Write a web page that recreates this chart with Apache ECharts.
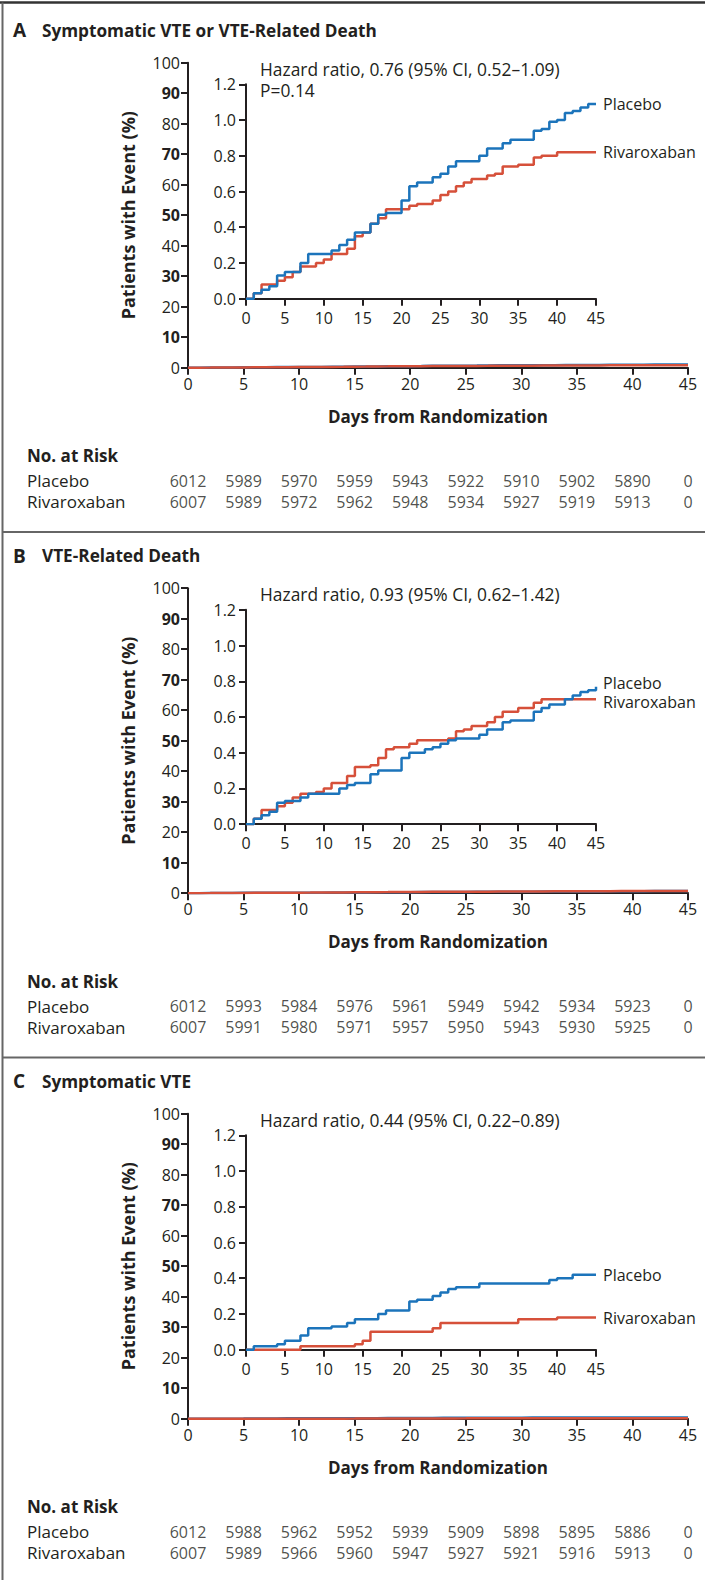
<!DOCTYPE html>
<html><head><meta charset="utf-8">
<script src="https://cdn.jsdelivr.net/npm/echarts@6/dist/echarts.min.js"></script>
<style>html,body{margin:0;padding:0;background:#fff}#c{width:705px;height:1580px}</style>
</head><body><div id="c"></div>
<script>
// ---------- data ----------
const days = Array.from({length: 46}, (_, i) => i);
const xTicks = [0, 5, 10, 15, 20, 25, 30, 35, 40, 45];
const panelLetters = ['A', 'B', 'C'];
const panelTitles = ['Symptomatic VTE or VTE-Related Death', 'VTE-Related Death', 'Symptomatic VTE'];
const hazardTexts = ['Hazard ratio, 0.76 (95% CI, 0.52\u20131.09)', 'Hazard ratio, 0.93 (95% CI, 0.62\u20131.42)', 'Hazard ratio, 0.44 (95% CI, 0.22\u20130.89)'];
const pTexts = ['P=0.14', '', ''];
const groupNames = ['Placebo', 'Rivaroxaban'];

const placeboA = [0,0.03,0.05,0.07,0.13,0.15,0.15,0.20,0.25,0.25,0.25,0.27,0.30,0.33,0.37,0.37,0.42,0.47,0.48,0.48,0.55,0.63,0.65,0.65,0.68,0.70,0.74,0.77,0.77,0.77,0.80,0.84,0.84,0.87,0.89,0.89,0.89,0.94,0.95,0.99,1.00,1.04,1.05,1.07,1.09,1.09];
const rivaA    = [0,0.03,0.08,0.08,0.10,0.12,0.15,0.18,0.18,0.20,0.22,0.25,0.25,0.28,0.35,0.37,0.42,0.45,0.50,0.50,0.50,0.52,0.53,0.53,0.55,0.58,0.60,0.63,0.65,0.67,0.67,0.69,0.70,0.74,0.74,0.75,0.75,0.79,0.80,0.80,0.82,0.82,0.82,0.82,0.82,0.82];
const placeboB = [0,0.03,0.05,0.07,0.12,0.13,0.13,0.15,0.17,0.17,0.17,0.17,0.20,0.22,0.23,0.23,0.28,0.30,0.30,0.30,0.37,0.40,0.40,0.42,0.43,0.45,0.47,0.48,0.48,0.48,0.50,0.53,0.53,0.57,0.58,0.58,0.58,0.63,0.65,0.67,0.67,0.70,0.72,0.74,0.75,0.77];
const rivaB    = [0,0.03,0.08,0.08,0.10,0.12,0.15,0.17,0.17,0.18,0.20,0.23,0.23,0.27,0.32,0.32,0.33,0.37,0.42,0.43,0.43,0.45,0.47,0.47,0.47,0.47,0.48,0.52,0.53,0.55,0.55,0.57,0.60,0.63,0.63,0.65,0.65,0.68,0.70,0.70,0.70,0.70,0.70,0.70,0.70,0.70];
const placeboC = [0,0.02,0.02,0.02,0.03,0.05,0.05,0.08,0.12,0.12,0.12,0.13,0.13,0.15,0.17,0.17,0.17,0.20,0.22,0.22,0.22,0.27,0.28,0.28,0.30,0.32,0.34,0.35,0.35,0.35,0.37,0.37,0.37,0.37,0.37,0.37,0.37,0.37,0.37,0.39,0.40,0.40,0.42,0.42,0.42,0.42];
const rivaC    = [0,0,0,0,0,0,0,0.02,0.02,0.02,0.02,0.02,0.02,0.02,0.03,0.05,0.10,0.10,0.10,0.10,0.10,0.10,0.10,0.10,0.12,0.15,0.15,0.15,0.15,0.15,0.15,0.15,0.15,0.15,0.15,0.17,0.17,0.17,0.17,0.17,0.18,0.18,0.18,0.18,0.18,0.18];

const riskPlaceboA = [6012,5989,5970,5959,5943,5922,5910,5902,5890,0];
const riskRivaA    = [6007,5989,5972,5962,5948,5934,5927,5919,5913,0];
const riskPlaceboB = [6012,5993,5984,5976,5961,5949,5942,5934,5923,0];
const riskRivaB    = [6007,5991,5980,5971,5957,5950,5943,5930,5925,0];
const riskPlaceboC = [6012,5988,5962,5952,5939,5909,5898,5895,5886,0];
const riskRivaC    = [6007,5989,5966,5960,5947,5927,5921,5916,5913,0];

const curves = [[placeboA, rivaA], [placeboB, rivaB], [placeboC, rivaC]];
const risks = [[riskPlaceboA, riskRivaA], [riskPlaceboB, riskRivaB], [riskPlaceboC, riskRivaC]];

// ---------- style ----------
const FONT = '"Open Sans", "Noto Sans", sans-serif';
const INK = '#231f20';
const COLORS = ['#1c74bb', '#d6503a'];
const offsets = [0, 525.5, 1051];
const endOffsets = [[[0, 0], [0, 0]], [[0, -4], [0, 3]], [[0, 0], [0, 0]]];

const grid = [], xAxis = [], yAxis = [], series = [], graphic = [];

function axisBase() {
  return {
    axisLine: {show: true, lineStyle: {color: INK, width: 2}},
    axisTick: {show: true, length: 7, lineStyle: {color: INK, width: 2}},
    splitLine: {show: false},
    axisLabel: {color: INK, fontSize: 16, fontFamily: FONT}
  };
}

panelLetters.forEach((letter, p) => {
  const o = offsets[p];
  const gMain = grid.length;
  grid.push({left: 188, top: 62.7 + o, width: 500, height: 305});
  grid.push({left: 246, top: 84.3 + o, width: 350, height: 214.4});
  grid.push({left: 188, top: 470 + o, width: 500, height: 42});

  // main axes
  const xMain = Object.assign(axisBase(), {
    gridIndex: gMain, type: 'value', min: 0, max: 45, interval: 5,
    name: 'Days from Randomization', nameLocation: 'middle', nameGap: 40,
    nameTextStyle: {color: INK, fontSize: 17, fontWeight: 'bold', fontFamily: FONT}
  });
  xMain.axisLabel.margin = 8;
  xAxis.push(xMain);
  const yMain = Object.assign(axisBase(), {
    gridIndex: gMain, type: 'value', min: 0, max: 100, interval: 10,
    name: 'Patients with Event (%)', nameLocation: 'middle', nameGap: 51,
    nameTextStyle: {color: INK, fontSize: 18, fontWeight: 'bold', fontFamily: FONT}
  });
  yMain.axisLabel = {
    color: INK, fontSize: 16, fontFamily: FONT, margin: 8,
    formatter: v => (v % 20 === 10 ? '{b|' + v + '}' : '{n|' + v + '}'),
    rich: {
      b: {fontWeight: 'bold', fontSize: 16, fontFamily: FONT, color: INK},
      n: {fontSize: 16, fontFamily: FONT, color: INK}
    }
  };
  yAxis.push(yMain);

  // inset axes
  const xIn = Object.assign(axisBase(), {gridIndex: gMain + 1, type: 'value', min: 0, max: 45, interval: 5});
  xIn.axisLabel.margin = 11;
  xAxis.push(xIn);
  const yIn = Object.assign(axisBase(), {gridIndex: gMain + 1, type: 'value', min: 0, max: 1.2, interval: 0.2});
  yIn.axisLabel.margin = 10;
  yIn.axisLabel.formatter = v => v.toFixed(1);
  yAxis.push(yIn);

  // risk table axes
  xAxis.push({gridIndex: gMain + 2, type: 'value', min: 0, max: 45, show: false});
  yAxis.push({
    gridIndex: gMain + 2, type: 'category', data: groupNames, inverse: true,
    axisLine: {show: false}, axisTick: {show: false}, splitLine: {show: false},
    axisLabel: {align: 'left', margin: 161, interval: 0, hideOverlap: false, color: INK, fontSize: 17, fontFamily: FONT}
  });

  // curves
  curves[p].forEach((arr, k) => {
    const data = days.map((d, i) => [d, arr[i]]);
    series.push({
      type: 'line', xAxisIndex: gMain, yAxisIndex: gMain, data, step: 'end',
      showSymbol: false, lineStyle: {color: COLORS[k], width: 2.5}, silent: true, z: 2 + k
    });
    series.push({
      type: 'line', name: groupNames[k], xAxisIndex: gMain + 1, yAxisIndex: gMain + 1, data, step: 'end',
      showSymbol: false, lineStyle: {color: COLORS[k], width: 2.5}, silent: true, z: 3 - k,
      endLabel: {show: true, formatter: groupNames[k], color: INK, fontSize: 16, fontFamily: FONT, distance: 7,
        offset: endOffsets[p][k]}
    });
  });

  // risk numbers
  risks[p].forEach((arr, k) => {
    series.push({
      type: 'scatter', xAxisIndex: gMain + 2, yAxisIndex: gMain + 2,
      data: xTicks.map((d, i) => [d, groupNames[k], arr[i]]),
      symbolSize: 1, itemStyle: {color: 'rgba(0,0,0,0)'}, silent: true,
      label: {show: true, position: 'inside', formatter: q => String(q.value[2]), color: INK, fontSize: 16, fontFamily: FONT}
    });
  });

  // texts
  graphic.push({type: 'text', x: 13, y: 30 + o, style: {text: letter, fontSize: 19, fontWeight: 'bold', fill: INK, fontFamily: FONT, verticalAlign: 'middle'}});
  graphic.push({type: 'text', x: 42, y: 30 + o, style: {text: panelTitles[p], fontSize: 17.2, fontWeight: 'bold', fill: INK, fontFamily: FONT, verticalAlign: 'middle'}});
  graphic.push({type: 'text', x: 260, y: 68.5 + o, style: {text: hazardTexts[p], fontSize: 17.4, fill: INK, fontFamily: FONT, verticalAlign: 'middle'}});
  if (pTexts[p]) graphic.push({type: 'text', x: 260, y: 90 + o, style: {text: pTexts[p], fontSize: 17.4, fill: INK, fontFamily: FONT, verticalAlign: 'middle'}});
  graphic.push({type: 'text', x: 27, y: 455.7 + o, style: {text: 'No. at Risk', fontSize: 17, fontWeight: 'bold', fill: INK, fontFamily: FONT, verticalAlign: 'middle'}});
});

// frame
graphic.push({type: 'line', shape: {x1: 0, y1: 2.5, x2: 705, y2: 2.5}, style: {stroke: '#333', lineWidth: 2.5}});
graphic.push({type: 'line', shape: {x1: 2.5, y1: 2.5, x2: 2.5, y2: 1580}, style: {stroke: '#666', lineWidth: 2}});
graphic.push({type: 'line', shape: {x1: 2.5, y1: 532, x2: 705, y2: 532}, style: {stroke: '#666', lineWidth: 2}});
graphic.push({type: 'line', shape: {x1: 2.5, y1: 1057.5, x2: 705, y2: 1057.5}, style: {stroke: '#666', lineWidth: 2}});

const chart = echarts.init(document.getElementById('c'), null, {renderer: 'svg'});
chart.setOption({animation: false, backgroundColor: '#fff', grid, xAxis, yAxis, series, graphic});
</script></body></html>
